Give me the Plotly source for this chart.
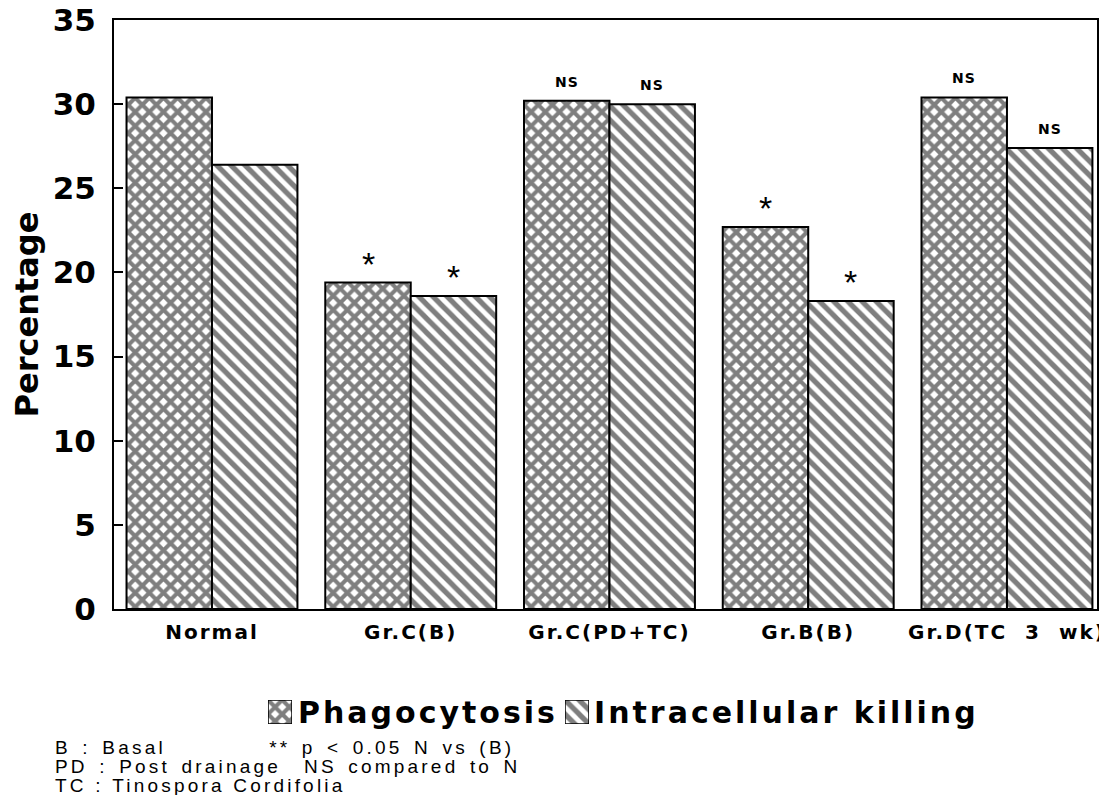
import plotly.graph_objects as go

categories = ["Normal", "Gr.C(B)", "Gr.C(PD+TC)", "Gr.B(B)", "Gr.D(TC 3 wk)"]
phagocytosis = [30.4, 19.4, 30.2, 22.7, 30.4]
intracellular_killing = [26.4, 18.6, 30.0, 18.3, 27.4]
phag_marks = ["", "*", "NS", "*", "NS"]
kill_marks = ["", "*", "NS", "*", "NS"]
series_names = ["Phagocytosis", "Intracellular killing"]
footnotes = [
    "B : Basal         ** p < 0.05 N vs (B)",
    "PD : Post drainage  NS compared to N",
    "TC : Tinospora Cordifolia",
]
footnote_word_gap = [3, 3, 0]

BOLD = "DejaVu Sans, Verdana, sans-serif"
REG = "Liberation Sans, Arial, sans-serif"

def spaced(t, px, ws=0):
    return '<span style="letter-spacing:%spx;word-spacing:%spx">%s</span>' % (px, ws, t)

# figure is taller than the window so bottom texts stay inside the paper
H = 830
TOP = 12
def py(page_y):
    return (TOP + 8 + (H - TOP) - page_y) / (H - TOP)

x = list(range(len(categories)))
BW = 0.43
XPAT = dict(shape="x", size=10, solidity=0.65, fgcolor="black", bgcolor="white")
DPAT = dict(shape="\\", size=10, solidity=0.52, fgcolor="black", bgcolor="white")

fig = go.Figure()
fig.add_trace(go.Bar(
    x=x, y=phagocytosis, name=series_names[0], width=BW, offset=-BW, showlegend=False,
    marker=dict(color="white", line=dict(color="black", width=2), pattern=XPAT),
))
fig.add_trace(go.Bar(
    x=x, y=intracellular_killing, name=series_names[1], width=BW, offset=0, showlegend=False,
    marker=dict(color="white", line=dict(color="black", width=2), pattern=DPAT),
))

# legend swatches drawn as tiny bars in their own small axes
fig.add_trace(go.Bar(x=[0.5], y=[1], width=1, xaxis="x2", yaxis="y2", showlegend=False, hoverinfo="skip",
                     marker=dict(color="white", line=dict(color="black", width=1.5), pattern=XPAT)))
fig.add_trace(go.Bar(x=[0.5], y=[1], width=1, xaxis="x3", yaxis="y3", showlegend=False, hoverinfo="skip",
                     marker=dict(color="white", line=dict(color="black", width=1.5), pattern=DPAT)))

def add_marks(vals, marks, dx):
    for i, (v, m) in enumerate(zip(vals, marks)):
        if not m:
            continue
        if m == "*":
            fig.add_annotation(x=i + dx, y=v, text="*", showarrow=False, yanchor="bottom",
                               yshift=-2, font=dict(size=34, family="Liberation Sans, Arial", color="black"))
        else:
            fig.add_annotation(x=i + dx, y=v, text="<b>" + spaced(m, 1) + "</b>", showarrow=False,
                               yanchor="bottom", yshift=9, font=dict(size=14, family=BOLD, color="black"))

add_marks(phagocytosis, phag_marks, -BW / 2)
add_marks(intracellular_killing, kill_marks, BW / 2)

# legend texts
fig.add_annotation(xref="paper", yref="paper", x=0.185, y=py(712), xanchor="left", yanchor="middle",
                   text="<b>" + spaced(series_names[0], 3) + "</b>", showarrow=False,
                   font=dict(size=30, family=BOLD, color="black"))
fig.add_annotation(xref="paper", yref="paper", x=0.486, y=py(712), xanchor="left", yanchor="middle",
                   text="<b>" + spaced(series_names[1], 3) + "</b>", showarrow=False,
                   font=dict(size=30, family=BOLD, color="black"))

for k, line in enumerate(footnotes):
    fig.add_annotation(xref="paper", yref="paper", x=-0.062, y=py(747 + 19 * k),
                       text=spaced(line.replace(" ", "&nbsp;"), 3.2, footnote_word_gap[k]), showarrow=False,
                       xanchor="left", yanchor="middle",
                       font=dict(size=19, family=REG, color="black"))

sw_y = [py(724), py(700)]
fig.update_layout(
    width=1099, height=H,
    margin=dict(l=106, r=10, t=TOP, b=0, autoexpand=False),
    paper_bgcolor="white", plot_bgcolor="white",
    barmode="overlay",
    showlegend=False,
    font=dict(family=REG, color="black"),
    xaxis2=dict(domain=[0.1567, 0.1811], anchor="y2", range=[0, 1], visible=False, fixedrange=True, automargin=False),
    yaxis2=dict(domain=sw_y, anchor="x2", range=[0, 1], visible=False, fixedrange=True, automargin=False),
    xaxis3=dict(domain=[0.4588, 0.4832], anchor="y3", range=[0, 1], visible=False, fixedrange=True, automargin=False),
    yaxis3=dict(domain=sw_y, anchor="x3", range=[0, 1], visible=False, fixedrange=True, automargin=False),
)
fig.update_layout(
    xaxis=dict(
        range=[-0.493, 4.453], tickmode="array", tickvals=x,
        ticktext=["<b>" + spaced(c.replace(" ", "&nbsp;&nbsp;"), 2) + "</b>" for c in categories],
        tickfont=dict(size=20, family=BOLD, color="black"), ticklabelstandoff=4,
        showline=True, linecolor="black", linewidth=2, mirror=True, ticks="", showgrid=False, zeroline=False,
        anchor="y", ticklabeloverflow="allow", automargin=False,
    ),
    yaxis=dict(
        domain=[py(609), 1], range=[0, 35], dtick=5,
        tickfont=dict(size=31, family=BOLD, color="black"),
        tickprefix="<b>", ticksuffix="</b>", ticklabelstandoff=10, ticklabeloverflow="allow",
        title=dict(text="<b>Percentage</b>", font=dict(size=32, family=BOLD, color="black"), standoff=14),
        showline=True, linecolor="black", linewidth=2, mirror=True, ticks="inside", ticklen=9, tickwidth=1.5,
        tickcolor="black", showgrid=False, zeroline=False, anchor="x", automargin=False,
    ),
)

fig.write_html("out.html")
